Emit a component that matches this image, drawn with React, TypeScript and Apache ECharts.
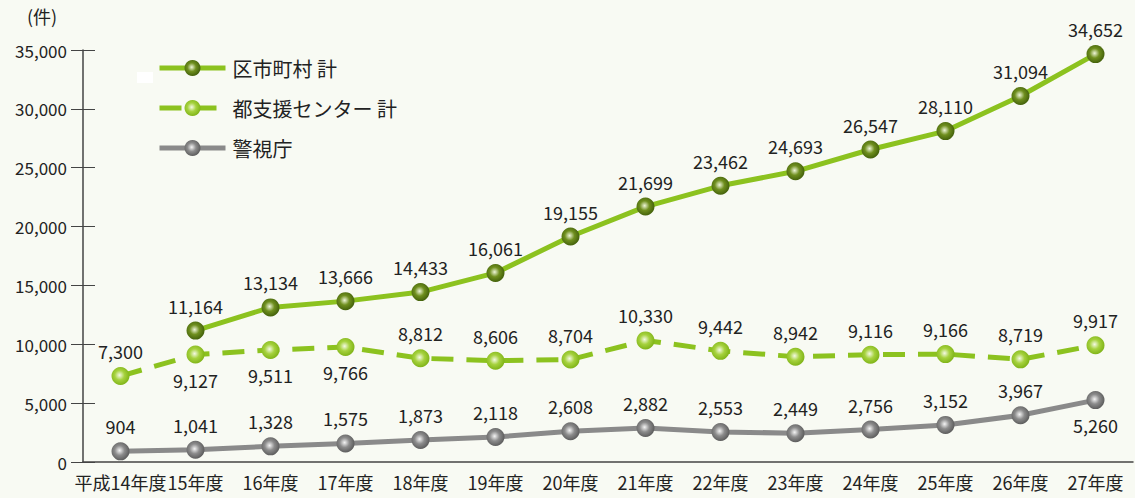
import React, { useEffect, useRef } from "react";
import * as echarts from "echarts";

const categories = ["平成14年度", "15年度", "16年度", "17年度", "18年度", "19年度", "20年度", "21年度", "22年度", "23年度", "24年度", "25年度", "26年度", "27年度"];
const municipal = [null, 11164, 13134, 13666, 14433, 16061, 19155, 21699, 23462, 24693, 26547, 28110, 31094, 34652];
const center = [7300, 9127, 9511, 9766, 8812, 8606, 8704, 10330, 9442, 8942, 9116, 9166, 8719, 9917];
const police = [904, 1041, 1328, 1575, 1873, 2118, 2608, 2882, 2553, 2449, 2756, 3152, 3967, 5260];
const yTicks = [0, 5000, 10000, 15000, 20000, 25000, 30000, 35000];

const centerBelow = new Set([1, 2, 3]);
const policeBelow = new Set([13]);

const FONT = "'Noto Sans CJK JP', 'Noto Sans', sans-serif";

const ball = (light: string, mid: string, dark: string) => ({
  type: "radial",
  x: 0.45,
  y: 0.45,
  r: 0.6,
  colorStops: [
    { offset: 0, color: light },
    { offset: 0.45, color: mid },
    { offset: 1, color: dark },
  ],
});

const fmt = (v: number) => v.toLocaleString("en-US");

export default function App() {
  const ref = useRef<HTMLDivElement>(null);
  useEffect(() => {
    const chart = echarts.init(ref.current!, null, { renderer: "svg" });
    const labelBase = { show: true, fontSize: 18, color: "#222", fontFamily: FONT, distance: 7, formatter: (p: any) => fmt(p.value) };
    const dash = [22, 13];
    chart.setOption({
      animation: false,
      backgroundColor: "#f8faf3",
      textStyle: { fontFamily: FONT },
      grid: { left: 83, right: 2, top: 50, bottom: 36 },
      legend: {
        left: 152,
        top: 53,
        orient: "vertical",
        itemWidth: 66,
        itemHeight: 20,
        itemGap: 20,
        textStyle: { fontSize: 20, color: "#222", fontFamily: FONT, padding: [0, 0, 0, 2] },
        data: [
          { name: "区市町村 計", lineStyle: { width: 5 } },
          { name: "都支援センター 計", lineStyle: { width: 5, type: dash } },
          { name: "警視庁", lineStyle: { width: 5 } },
        ],
      },
      graphic: [
        { type: "rect", left: 137, top: 72, shape: { width: 16, height: 11 }, style: { fill: "#ffffff" } },
        { type: "text", left: 27, top: 7, style: { text: "(件)", fontSize: 18, fill: "#222", fontFamily: FONT } },
      ],
      xAxis: {
        type: "category",
        data: categories,
        boundaryGap: true,
        axisLine: { lineStyle: { color: "#444", width: 1.5 } },
        axisTick: { inside: true, length: 10, lineStyle: { color: "#444" } },
        axisLabel: { fontSize: 18, color: "#222", margin: 11, fontFamily: FONT, interval: 0 },
      },
      yAxis: [
        {
          type: "value",
          min: 0,
          max: 35000,
          interval: 5000,
          splitLine: { show: false },
          axisLine: { show: true, lineStyle: { color: "#444", width: 1.5 } },
          axisTick: { show: true, length: 12, lineStyle: { color: "#444" } },
          axisLabel: { fontSize: 17, color: "#222", margin: 16, fontFamily: FONT, formatter: (v: number) => (yTicks.includes(v) ? fmt(v) : "") },
        },
        {
          type: "value",
          min: 0,
          max: 35000,
          interval: 5000,
          position: "left",
          splitLine: { show: false },
          axisLine: { show: false },
          axisTick: { show: true, inside: true, length: 12, lineStyle: { color: "#444" } },
          axisLabel: { show: false },
        },
      ],
      series: [
        {
          name: "区市町村 計",
          type: "line",
          data: municipal,
          symbol: "circle",
          symbolSize: 18,
          lineStyle: { color: "#8cc21f", width: 5 },
          itemStyle: { color: ball("#eef5d8", "#6f8f1e", "#3d5a08"), borderWidth: 0 },
          label: { ...labelBase, position: "top" },
          z: 3,
        },
        {
          name: "都支援センター 計",
          type: "line",
          data: center.map((v, i) => ({ value: v, label: { position: centerBelow.has(i) ? "bottom" : "top" } })),
          symbol: "circle",
          symbolSize: 18,
          lineStyle: { color: "#8cc21f", width: 5, type: dash },
          itemStyle: { color: ball("#f4f9e4", "#a6d23e", "#7aaf12"), borderWidth: 0 },
          label: { ...labelBase },
          z: 2,
        },
        {
          name: "警視庁",
          type: "line",
          data: police.map((v, i) => ({ value: v, label: { position: policeBelow.has(i) ? "bottom" : "top" } })),
          symbol: "circle",
          symbolSize: 18,
          lineStyle: { color: "#8a8a8a", width: 5 },
          itemStyle: { color: ball("#f4f4f4", "#8c8c8c", "#555555"), borderWidth: 0 },
          label: { ...labelBase },
          z: 2,
        },
      ],
    });
    return () => chart.dispose();
  }, []);
  return <div ref={ref} style={{ width: 1135, height: 498, position: "absolute", left: 0, top: 0 }} />;
}
